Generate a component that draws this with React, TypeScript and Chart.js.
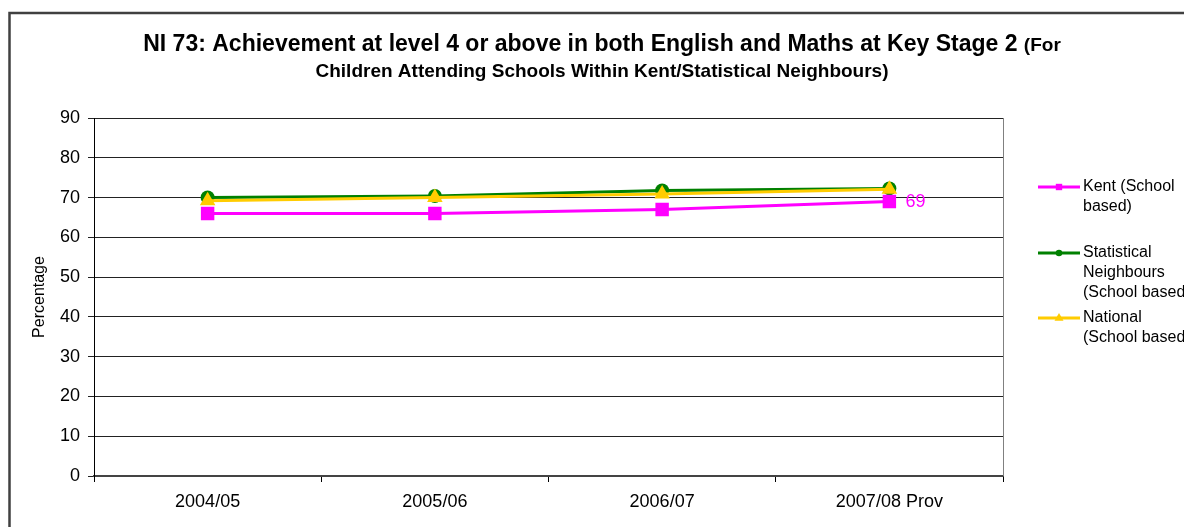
import React, { useEffect, useRef } from "react";
import { Chart, registerables } from "chart.js";

Chart.register(...registerables);

const categories = ["2004/05", "2005/06", "2006/07", "2007/08 Prov"];
const kentValues = [66, 66, 67, 69];
const neighbourValues = [70, 70.4, 71.8, 72.3];
const nationalValues = [69.2, 70, 70.9, 72.1];

const seriesNames = ["Kent (School based)", "Statistical Neighbours (School based)", "National (School based)"];
const legendLines = [
  ["Kent (School", "based)"],
  ["Statistical", "Neighbours", "(School based)"],
  ["National", "(School based)"],
];
const titleMain = "NI 73: Achievement at level 4 or above in both English and Maths at Key Stage 2 ";
const titleSmall = "(For";
const titleLine2 = "Children Attending Schools Within Kent/Statistical Neighbours)";
const yAxisTitle = "Percentage";
const yMin = 0;
const yMax = 90;
const yStep = 10;

const FONT = '"Liberation Sans", Arial, sans-serif';
const KENT = "#FF00FF";
const GREEN = "#008000";
const YELLOW = "#FFCC00";

function drawMarker(ctx: CanvasRenderingContext2D, style: string, x: number, y: number, r: number, color: string) {
  ctx.save();
  ctx.fillStyle = color;
  ctx.beginPath();
  if (style === "rect") {
    ctx.rect(x - r, y - r, 2 * r, 2 * r);
  } else if (style === "circle") {
    ctx.arc(x, y, r, 0, Math.PI * 2);
  } else {
    ctx.moveTo(x, y - r * 1.1);
    ctx.lineTo(x + r, y + r * 0.6);
    ctx.lineTo(x - r, y + r * 0.6);
    ctx.closePath();
  }
  ctx.fill();
  ctx.restore();
}

const decorPlugin = {
  id: "decor",
  beforeDraw(chart: any) {
    const ctx = chart.ctx as CanvasRenderingContext2D;
    ctx.save();
    ctx.fillStyle = "#ffffff";
    ctx.fillRect(0, 0, chart.width, chart.height);
    ctx.strokeStyle = "#404040";
    ctx.lineWidth = 2.5;
    ctx.strokeRect(9.5, 13, 1400, 800);
    ctx.restore();
  },
  afterDraw(chart: any) {
    const ctx = chart.ctx as CanvasRenderingContext2D;
    const area = chart.chartArea;
    ctx.save();
    // plot area right border
    ctx.strokeStyle = "#808080";
    ctx.lineWidth = 1;
    ctx.beginPath();
    ctx.moveTo(Math.round(area.right) + 0.5, area.top);
    ctx.lineTo(Math.round(area.right) + 0.5, area.bottom);
    ctx.stroke();

    // title
    ctx.fillStyle = "#000";
    ctx.textBaseline = "alphabetic";
    ctx.textAlign = "left";
    const fBig = `bold 23px ${FONT}`;
    const fSmall = `bold 19px ${FONT}`;
    ctx.font = fBig;
    const wA = ctx.measureText(titleMain).width;
    ctx.font = fSmall;
    const wB = ctx.measureText(titleSmall).width;
    const cx = 602;
    let x0 = cx - (wA + wB) / 2;
    ctx.font = fBig;
    ctx.fillText(titleMain, x0, 51);
    ctx.font = fSmall;
    ctx.fillText(titleSmall, x0 + wA, 51);
    ctx.textAlign = "center";
    ctx.fillText(titleLine2, cx, 77);

    // legend
    const styles = ["rect", "circle", "triangle"];
    const sizes = [3.2, 3.3, 4.5];
    const ys = [187, 253, 318];
    chart.data.datasets.forEach((ds: any, i: number) => {
      const y = ys[i];
      ctx.strokeStyle = ds.borderColor;
      ctx.lineWidth = 3;
      ctx.beginPath();
      ctx.moveTo(1038, y);
      ctx.lineTo(1080, y);
      ctx.stroke();
      drawMarker(ctx, styles[i], 1059, y, sizes[i], ds.borderColor);
      ctx.fillStyle = "#000";
      ctx.font = `16px ${FONT}`;
      ctx.textAlign = "left";
      ctx.textBaseline = "middle";
      legendLines[i].forEach((line, k) => {
        ctx.fillText(line, 1083, y + k * 20);
      });
    });

    // data label for last Kent point
    const meta = chart.getDatasetMeta(0);
    const pt = meta.data[kentValues.length - 1];
    if (pt) {
      ctx.fillStyle = KENT;
      ctx.font = `18px ${FONT}`;
      ctx.textAlign = "left";
      ctx.textBaseline = "middle";
      ctx.fillText(String(kentValues[kentValues.length - 1]), pt.x + 16, pt.y);
    }
    ctx.restore();
  },
};

export default function App() {
  const canvasRef = useRef<HTMLCanvasElement | null>(null);

  useEffect(() => {
    if (!canvasRef.current) return;
    const chart = new Chart(canvasRef.current, {
      type: "line",
      data: {
        labels: categories,
        datasets: [
          {
            label: seriesNames[0],
            data: kentValues,
            borderColor: KENT,
            backgroundColor: KENT,
            borderWidth: 3,
            pointStyle: "rect",
            pointRadius: 9.5,
            pointBorderWidth: 0,
            pointBackgroundColor: KENT,
            order: 1,
          },
          {
            label: seriesNames[1],
            data: neighbourValues,
            borderColor: GREEN,
            backgroundColor: GREEN,
            borderWidth: 3,
            pointStyle: "circle",
            pointRadius: 7,
            pointBorderWidth: 0,
            pointBackgroundColor: GREEN,
            order: 2,
          },
          {
            label: seriesNames[2],
            data: nationalValues,
            borderColor: YELLOW,
            backgroundColor: YELLOW,
            borderWidth: 3,
            pointStyle: "triangle",
            pointRadius: 9,
            pointBorderWidth: 0,
            pointBackgroundColor: YELLOW,
            order: 0,
          },
        ],
      },
      options: {
        animation: false,
        responsive: true,
        maintainAspectRatio: false,
        layout: { padding: { top: 118, right: 181, bottom: 0, left: 0 } },
        plugins: {
          legend: { display: false },
          title: { display: false },
          tooltip: { enabled: false },
        },
        elements: { line: { tension: 0 } },
        scales: {
          x: {
            type: "category",
            offset: true,
            afterFit: (scale: any) => {
              scale.height = 51;
            },
            grid: {
              offset: true,
              drawOnChartArea: false,
              drawTicks: true,
              tickLength: 6,
              color: "#000",
            },
            border: { color: "#444", width: 2 },
            ticks: {
              color: "#000",
              font: { family: FONT, size: 18 },
              padding: 9,
              maxRotation: 0,
              autoSkip: false,
            },
          },
          y: {
            min: yMin,
            max: yMax,
            afterFit: (scale: any) => {
              scale.width = 94;
            },
            grid: {
              color: "#222",
              lineWidth: 1,
              drawTicks: true,
              tickLength: 6,
            },
            border: { color: "#000", width: 1 },
            ticks: {
              stepSize: yStep,
              color: "#000",
              font: { family: FONT, size: 18 },
              padding: 8,
            },
            title: {
              display: true,
              text: yAxisTitle,
              color: "#000",
              font: { family: FONT, size: 16 },
              padding: { top: 30, bottom: 0 },
            },
          },
        },
      },
      plugins: [decorPlugin],
    });
    return () => chart.destroy();
  }, []);

  return (
    <div style={{ position: "absolute", left: 0, top: 0, width: 1184, height: 527 }}>
      <canvas ref={canvasRef} />
    </div>
  );
}
